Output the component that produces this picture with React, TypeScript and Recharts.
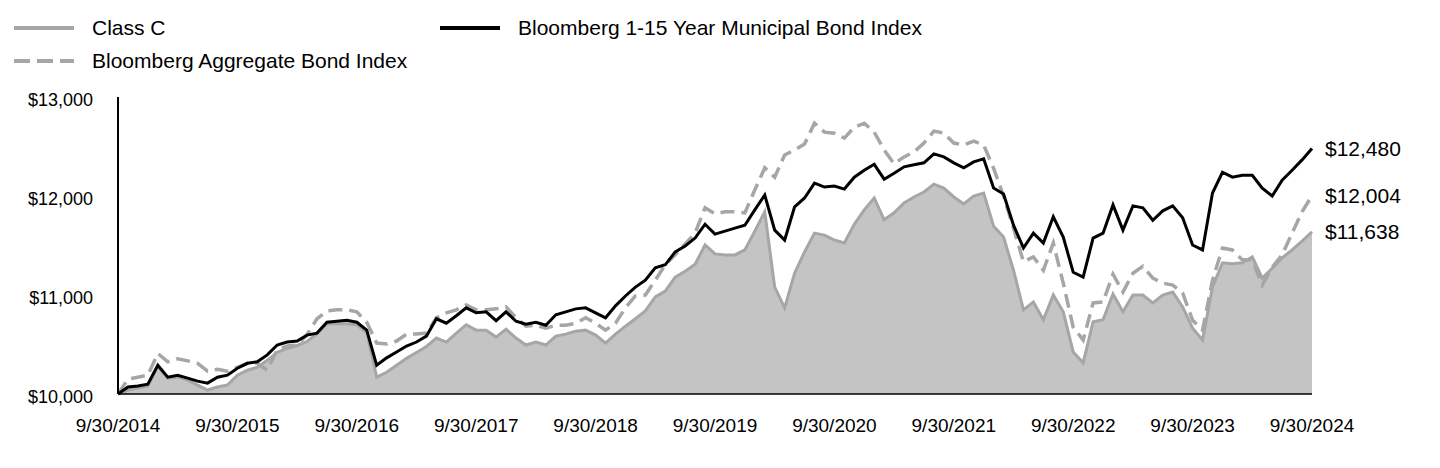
import React from 'react';
import { ComposedChart, Area, Line, XAxis, YAxis, LabelList } from 'recharts';

// monthly values, 9/30/2014 .. 9/30/2024
const classC = [
	10000, 10040, 10060, 10080, 10280, 10160, 10170, 10140, 10090, 10040,
	10070, 10090, 10190, 10240, 10270, 10340, 10420, 10460, 10490, 10530,
	10610, 10710, 10710, 10710, 10700, 10620, 10170, 10220, 10290, 10360,
	10420, 10480, 10565, 10525, 10615, 10700, 10645, 10645, 10575, 10655,
	10565, 10495, 10525, 10495, 10585, 10605, 10635, 10645, 10595, 10515,
	10605, 10685, 10760, 10840, 10980, 11040, 11180, 11240, 11310, 11505,
	11415, 11405, 11405, 11455, 11645, 11840, 11080, 10870, 11220, 11435,
	11625, 11605, 11555, 11525, 11715, 11860, 11980, 11760, 11830, 11930,
	11990, 12040, 12120, 12080, 11990, 11920, 12000, 12030, 11695, 11585,
	11250, 10850, 10930, 10750, 11000, 10830, 10425, 10315, 10730, 10750,
	11010, 10830, 11000, 11000, 10920, 11000, 11030, 10880, 10665, 10545,
	11080, 11325, 11315, 11325, 11385, 11170, 11270, 11375, 11455, 11545,
	11638,
];

const aggregate = [
	10000, 10150, 10170, 10190, 10410, 10325, 10355, 10335, 10310, 10230,
	10250, 10230, 10270, 10310, 10310, 10240, 10445, 10485, 10495, 10600,
	10760, 10840, 10850, 10850, 10830, 10725, 10515, 10505, 10535, 10605,
	10605, 10615, 10770, 10820, 10850, 10900, 10850, 10850, 10860, 10880,
	10770, 10685, 10695, 10665, 10695, 10695, 10715, 10770, 10715, 10645,
	10715, 10870, 10990, 11000, 11150, 11305, 11405, 11515, 11625, 11880,
	11820, 11840, 11840, 11830, 12060, 12285, 12190, 12415, 12465, 12525,
	12735, 12645, 12635, 12585, 12695, 12735, 12645, 12465, 12325, 12395,
	12445, 12535, 12655, 12635, 12535, 12515, 12555, 12515, 12280, 12000,
	11675, 11335, 11385, 11250, 11525, 11120, 10675, 10545, 10920, 10930,
	11210, 11030, 11220, 11290, 11170, 11120, 11100, 11020, 10745, 10645,
	11150, 11475, 11455, 11355, 11355, 11100, 11280, 11405, 11625, 11840,
	12004,
];

const muni = [
	10000, 10070, 10080, 10100, 10290, 10170, 10190, 10160, 10130, 10110,
	10170, 10190, 10260, 10310, 10325, 10395, 10495, 10525, 10535, 10595,
	10615, 10725, 10735, 10745, 10725, 10645, 10290, 10365, 10425, 10485,
	10525, 10585, 10760, 10715, 10790, 10870, 10820, 10830, 10740, 10830,
	10735, 10705, 10725, 10695, 10800, 10830, 10860, 10870, 10820, 10770,
	10890, 10990, 11080, 11150, 11275, 11305, 11435, 11495, 11575, 11715,
	11615, 11645, 11675, 11705, 11860, 12010, 11655, 11555, 11890, 11980,
	12130, 12090, 12100, 12070, 12190, 12260, 12320, 12170, 12230, 12295,
	12315, 12335, 12425, 12395, 12335, 12285, 12345, 12375, 12080, 12020,
	11705, 11475, 11625, 11525, 11790, 11585, 11230, 11180, 11575, 11625,
	11910, 11655, 11900, 11880, 11755, 11850, 11900, 11780, 11505, 11455,
	12030, 12240, 12190, 12210, 12210, 12080, 12000, 12160, 12260, 12365,
	12480,
];

const tickLabels = [
	'9/30/2014', '9/30/2015', '9/30/2016', '9/30/2017', '9/30/2018', '9/30/2019',
	'9/30/2020', '9/30/2021', '9/30/2022', '9/30/2023', '9/30/2024',
];
const yTicks = [10000, 11000, 12000, 13000];

const data = classC.map((v, i) => ({ i, classC: v, aggregate: aggregate[i], muni: muni[i] }));
const last = data.length - 1;
const font = '"Liberation Sans", Arial, sans-serif';
const fmt = (v: number) => '$' + v.toLocaleString('en-US');

const XTick = ({ x, y, payload }: any) => (
	<text x={x} y={y} dy="0.355em" textAnchor="middle" fontSize={19} fill="#000" fontFamily={font}>
		{tickLabels[payload.value / 12]}
	</text>
);

const YTick = ({ x, y, payload }: any) => (
	<text x={x} y={y + 3} dy="0.355em" textAnchor="end" fontSize={18} fill="#000" fontFamily={font}>
		{fmt(payload.value)}
	</text>
);

const endLabel = (props: any) => {
	if (props.index !== last) return null;
	return (
		<text x={props.x + 13} y={props.y} dy="0.355em" fontSize={21} fill="#000" fontFamily={font}>
			{fmt(props.value)}
		</text>
	);
};

const LegendItem = ({ left, top, dash, color, text }: any) => (
	<div style={{ position: 'absolute', left, top, height: 30, display: 'flex', alignItems: 'center' }}>
		<svg width={62} height={10} style={{ marginRight: 17 }}>
			<line x1={1} y1={5} x2={61} y2={5} stroke={color} strokeWidth={4} strokeDasharray={dash} />
		</svg>
		<span style={{ fontSize: 21, color: '#000', whiteSpace: 'nowrap' }}>{text}</span>
	</div>
);

const App: React.FC = () => {
	return (
		<div style={{ position: 'absolute', left: 0, top: 0, width: 1440, height: 468, background: '#fff', fontFamily: font }}>
			<LegendItem left={13} top={13} color="#a6a6a6" text="Class C" />
			<LegendItem left={13} top={46} color="#a6a6a6" dash="16 7" text="Bloomberg Aggregate Bond Index" />
			<LegendItem left={439} top={13} color="#000" text="Bloomberg 1-15 Year Municipal Bond Index" />
			<div style={{ position: 'absolute', left: 0, top: 0 }}>
				<ComposedChart width={1440} height={468} data={data} margin={{ top: 97, right: 128, bottom: 0, left: 0 }}>
					<XAxis
						type="number"
						dataKey="i"
						domain={[0, 120]}
						ticks={[0, 12, 24, 36, 48, 60, 72, 84, 96, 108, 120]}
						height={74}
						tickSize={0}
						tickMargin={31}
						tickLine={false}
						axisLine={{ stroke: '#000', strokeWidth: 1.5 }}
						tick={<XTick />}
					/>
					<YAxis
						domain={[10000, 13000]}
						ticks={yTicks}
						width={118}
						tickSize={0}
						tickMargin={25}
						tickLine={false}
						axisLine={{ stroke: '#000', strokeWidth: 2 }}
						tick={<YTick />}
					/>
					<Area
						type="linear"
						dataKey="classC"
						stroke="#a6a6a6"
						strokeWidth={3}
						fill="#c4c4c4"
						fillOpacity={1}
						isAnimationActive={false}
					>
						<LabelList dataKey="classC" content={endLabel} />
					</Area>
					<Line
						type="linear"
						dataKey="aggregate"
						stroke="#a6a6a6"
						strokeWidth={3.5}
						strokeDasharray="14 7"
						dot={false}
						isAnimationActive={false}
					>
						<LabelList dataKey="aggregate" content={endLabel} />
					</Line>
					<Line
						type="linear"
						dataKey="muni"
						stroke="#000"
						strokeWidth={3}
						dot={false}
						isAnimationActive={false}
					>
						<LabelList dataKey="muni" content={endLabel} />
					</Line>
				</ComposedChart>
			</div>
		</div>
	);
};

export default App;
